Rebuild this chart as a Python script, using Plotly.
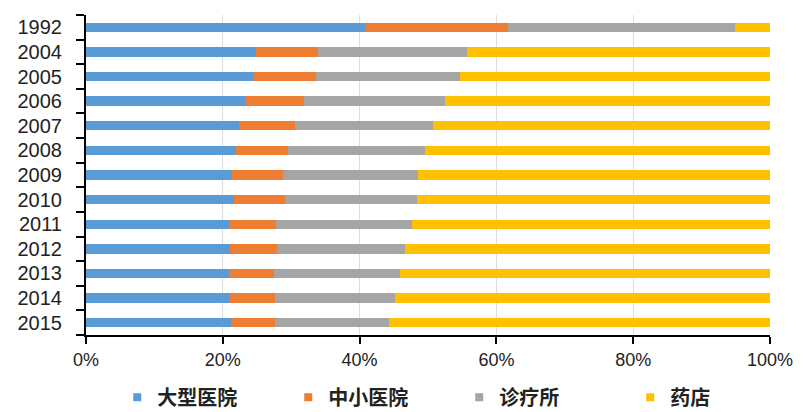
import plotly.graph_objects as go

years = ["1992", "2004", "2005", "2006", "2007", "2008", "2009", "2010",
         "2011", "2012", "2013", "2014", "2015"]
series_names = ["大型医院", "中小医院", "诊疗所", "药店"]
large_hosp = [40.8, 24.9, 24.4, 23.4, 22.4, 21.9, 21.4, 21.6, 20.9, 21.0, 20.9, 21.1, 21.2]
small_hosp = [20.9, 9.0, 9.2, 8.5, 8.2, 7.6, 7.4, 7.5, 6.9, 6.9, 6.6, 6.5, 6.4]
clinics = [33.2, 21.8, 21.1, 20.6, 20.1, 20.1, 19.7, 19.3, 19.9, 18.7, 18.4, 17.6, 16.7]
pharmacy = [5.1, 44.3, 45.3, 47.5, 49.3, 50.4, 51.5, 51.6, 52.3, 53.4, 54.1, 54.8, 55.7]
x_ticks = [0, 20, 40, 60, 80, 100]
x_tick_labels = ["0%", "20%", "40%", "60%", "80%", "100%"]

colors = ["#5B9BD5", "#ED7D31", "#A5A5A5", "#FFC000"]
values = [large_hosp, small_hosp, clinics, pharmacy]

fig = go.Figure()
for name, vals, col in zip(series_names, values, colors):
    fig.add_trace(go.Bar(
        y=years, x=vals, name=name, orientation="h",
        marker=dict(color=col, line=dict(width=0)),
        width=0.38, showlegend=False,
    ))
# legend entries with small square markers
for name, col in zip(series_names, colors):
    fig.add_trace(go.Scatter(
        x=[None], y=[None], mode="markers", name=name,
        marker=dict(symbol="square", size=8, color=col),
        showlegend=True,
    ))

fig.update_layout(
    barmode="stack",
    barnorm="percent",
    width=803, height=412,
    margin=dict(l=86, r=33, t=15, b=77, autoexpand=False),
    paper_bgcolor="white",
    plot_bgcolor="white",
    font=dict(family="Liberation Sans, Arial, sans-serif", color="#222222"),
    showlegend=True,
    legend=dict(
        orientation="h", xref="container", yref="container",
        x=0.146, xanchor="left", y=0.036, yanchor="middle",
        font=dict(family="Noto Sans CJK SC", size=20, color="#222222", weight="bold"),
        entrywidth=126, entrywidthmode="pixels", itemwidth=30,
        traceorder="normal", bgcolor="rgba(0,0,0,0)",
    ),
)
fig.update_xaxes(
    range=[0, 100], tickmode="array", tickvals=x_ticks, ticktext=x_tick_labels,
    showgrid=True, gridcolor="#DDDDDD", gridwidth=1,
    showline=True, linecolor="black", linewidth=2,
    ticks="outside", ticklen=7, tickwidth=2, tickcolor="black",
    tickfont=dict(size=18, color="#222222"),
    zeroline=False,
)
fig.update_yaxes(
    type="category", categoryorder="array", categoryarray=years,
    tickmode="array", tickvals=years, ticktext=years,
    autorange="reversed",
    showline=True, linecolor="black", linewidth=2,
    ticks="outside", ticklen=8, tickwidth=2, tickcolor="black",
    tickson="boundaries", ticklabelstandoff=18,
    tickfont=dict(size=20, color="#222222"),
    showgrid=False,
)

fig.write_html("out.html")
